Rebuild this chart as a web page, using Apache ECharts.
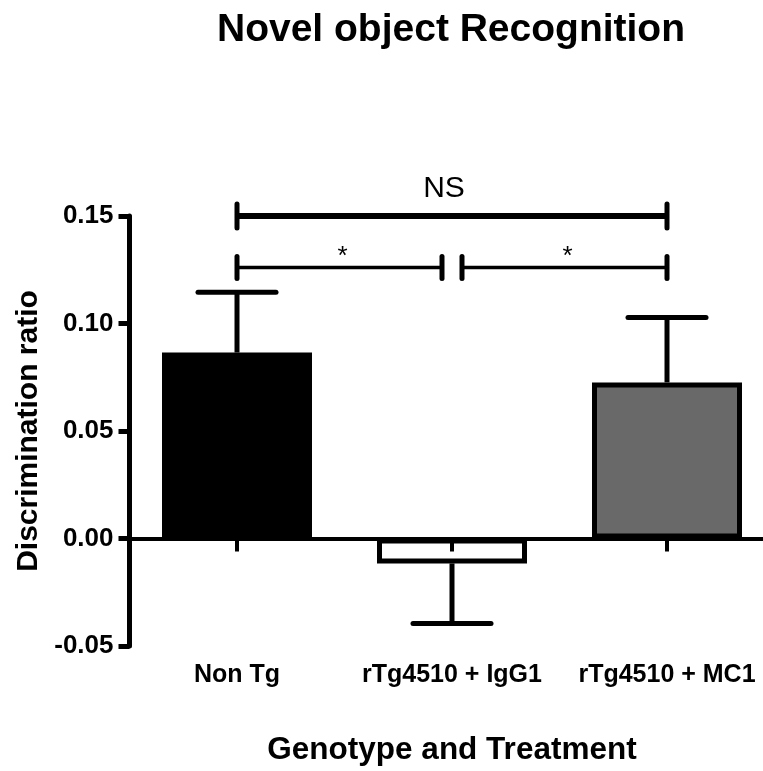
<!DOCTYPE html>
<html>
<head>
<meta charset="utf-8">
<title>Novel object Recognition</title>
<script src="https://cdn.jsdelivr.net/npm/echarts@6/dist/echarts.min.js"></script>
<style>
  html, body { margin: 0; padding: 0; background: #fff; }
  #chart { width: 763px; height: 771px; }
</style>
</head>
<body>
<div id="chart"></div>
<script>
// data
var groups = ['Non Tg', 'rTg4510 + IgG1', 'rTg4510 + MC1'];
var means = [0.0865, -0.0116, 0.0726];
var sems = [0.0280, 0.0279, 0.0302];
var barColors = ['#000000', '#ffffff', '#696969'];

var yTicks = [-0.05, 0.00, 0.05, 0.10, 0.15];

// significance brackets (category index from / to, height, label)
var bracketFrom = [0, 0, 1];
var bracketTo = [2, 1, 2];
var bracketLevel = [0.150, 0.126, 0.126];
var bracketLabel = ['NS', '*', '*'];

var FONT = '"Liberation Sans", Arial, sans-serif';

var dom = document.getElementById('chart');
var myChart = echarts.init(dom, null, { renderer: 'canvas' });

var barData = means.map(function (v, i) {
  return {
    value: v,
    itemStyle: { color: barColors[i], borderColor: '#000', borderWidth: 5 }
  };
});

var errData = means.map(function (v, i) { return [i, v, sems[i]]; });

var bracketData = bracketFrom.map(function (f, i) {
  return [f, bracketTo[i], bracketLevel[i], i];
});

function sharesEnd(i, idx) {
  // another bracket on the same level touching this category
  for (var k = 0; k < bracketFrom.length; k++) {
    if (k === i || bracketLevel[k] !== bracketLevel[i]) continue;
    if (bracketFrom[k] === idx || bracketTo[k] === idx) return true;
  }
  return false;
}

var option = {
  animation: false,
  backgroundColor: '#fff',
  title: {
    text: 'Novel object Recognition',
    left: 446,
    top: 6,
    textAlign: 'center',
    textStyle: { fontFamily: FONT, fontWeight: 'bold', fontSize: 39, color: '#000' }
  },
  grid: { left: 129.5, top: 216, width: 645, height: 430, outerBoundsMode: 'none', containLabel: false },
  xAxis: {
    type: 'category',
    data: groups,
    axisLine: { show: false, onZero: false },
    axisTick: { show: false },
    axisLabel: {
      interval: 0,
      margin: 17,
      fontFamily: FONT, fontWeight: 'bold', fontSize: 25, color: '#000'
    },
    name: 'Genotype and Treatment',
    nameLocation: 'middle',
    nameGap: 88,
    nameTextStyle: {
      fontFamily: FONT, fontWeight: 'bold', fontSize: 31.5, color: '#000'
    }
  },
  yAxis: {
    type: 'value',
    min: yTicks[0],
    max: yTicks[yTicks.length - 1],
    interval: 0.05,
    splitLine: { show: false },
    axisLine: { show: true, onZero: false, lineStyle: { color: '#000', width: 5 } },
    axisTick: { show: true, length: 11, lineStyle: { color: '#000', width: 5 } },
    axisLabel: {
      margin: 16,
      fontFamily: FONT, fontWeight: 'bold', fontSize: 26, color: '#000',
      formatter: function (v) { return v.toFixed(2); }
    },
    name: 'Discrimination ratio',
    nameLocation: 'middle',
    nameGap: 86,
    nameRotate: 90,
    nameTextStyle: { fontFamily: FONT, fontWeight: 'bold', fontSize: 30, color: '#000' }
  },
  series: [{
    type: 'bar',
    data: barData,
    barWidth: 150,
    z: 2,
    markLine: {
      silent: true,
      symbol: 'none',
      label: { show: false },
      lineStyle: { color: '#000', width: 4, type: 'solid' },
      data: [{ yAxis: 0 }]
    }
  }, {
    type: 'custom',
    data: errData,
    z: 3,
    clip: false,
    renderItem: function (params, api) {
      var idx = api.value(0), m = api.value(1), e = api.value(2);
      var sign = m >= 0 ? 1 : -1;
      var p0 = api.coord([idx, m]);
      var p1 = api.coord([idx, m + sign * e]);
      var pz = api.coord([idx, 0]);
      var half = 39;
      return {
        type: 'group',
        children: [{
          type: 'line',
          shape: { x1: p0[0], y1: p0[1], x2: p1[0], y2: p1[1] },
          style: { stroke: '#000', lineWidth: 5 }
        }, {
          type: 'line',
          shape: { x1: p1[0] - half, y1: p1[1], x2: p1[0] + half, y2: p1[1] },
          style: { stroke: '#000', lineWidth: 5, lineCap: 'round' }
        }, {
          // category tick under the zero line
          type: 'line',
          shape: { x1: pz[0], y1: pz[1], x2: pz[0], y2: pz[1] + 13 },
          style: { stroke: '#000', lineWidth: 4 }
        }]
      };
    }
  }, {
    type: 'custom',
    data: bracketData,
    z: 3,
    clip: false,
    renderItem: function (params, api) {
      var i = api.value(3);
      var a = api.coord([api.value(0), api.value(2)]);
      var b = api.coord([api.value(1), api.value(2)]);
      var gap = 10;
      var x1 = a[0] + (sharesEnd(i, bracketFrom[i]) ? gap : 0);
      var x2 = b[0] - (sharesEnd(i, bracketTo[i]) ? gap : 0);
      var big = bracketLabel[i] === 'NS';
      var lw = big ? 6 : 3.5;
      var th = big ? 12 : 11;
      var y = a[1];
      return {
        type: 'group',
        children: [{
          type: 'line',
          shape: { x1: x1, y1: y, x2: x2, y2: y },
          style: { stroke: '#000', lineWidth: lw }
        }, {
          type: 'line',
          shape: { x1: x1, y1: y - th, x2: x1, y2: y + th },
          style: { stroke: '#000', lineWidth: 5, lineCap: 'round' }
        }, {
          type: 'line',
          shape: { x1: x2, y1: y - th, x2: x2, y2: y + th },
          style: { stroke: '#000', lineWidth: 5, lineCap: 'round' }
        }, {
          type: 'text',
          style: {
            text: bracketLabel[i],
            x: (x1 + x2) / 2 + (big ? -8 : 3),
            y: big ? y - 12 : y + 2,
            align: 'center',
            verticalAlign: 'bottom',
            fontFamily: FONT,
            fontSize: big ? 30 : 26,
            fill: '#000'
          }
        }]
      };
    }
  }]
};

if (option && typeof option === 'object') {
  myChart.setOption(option);
}

window.addEventListener('resize', myChart.resize);
</script>
</body>
</html>
